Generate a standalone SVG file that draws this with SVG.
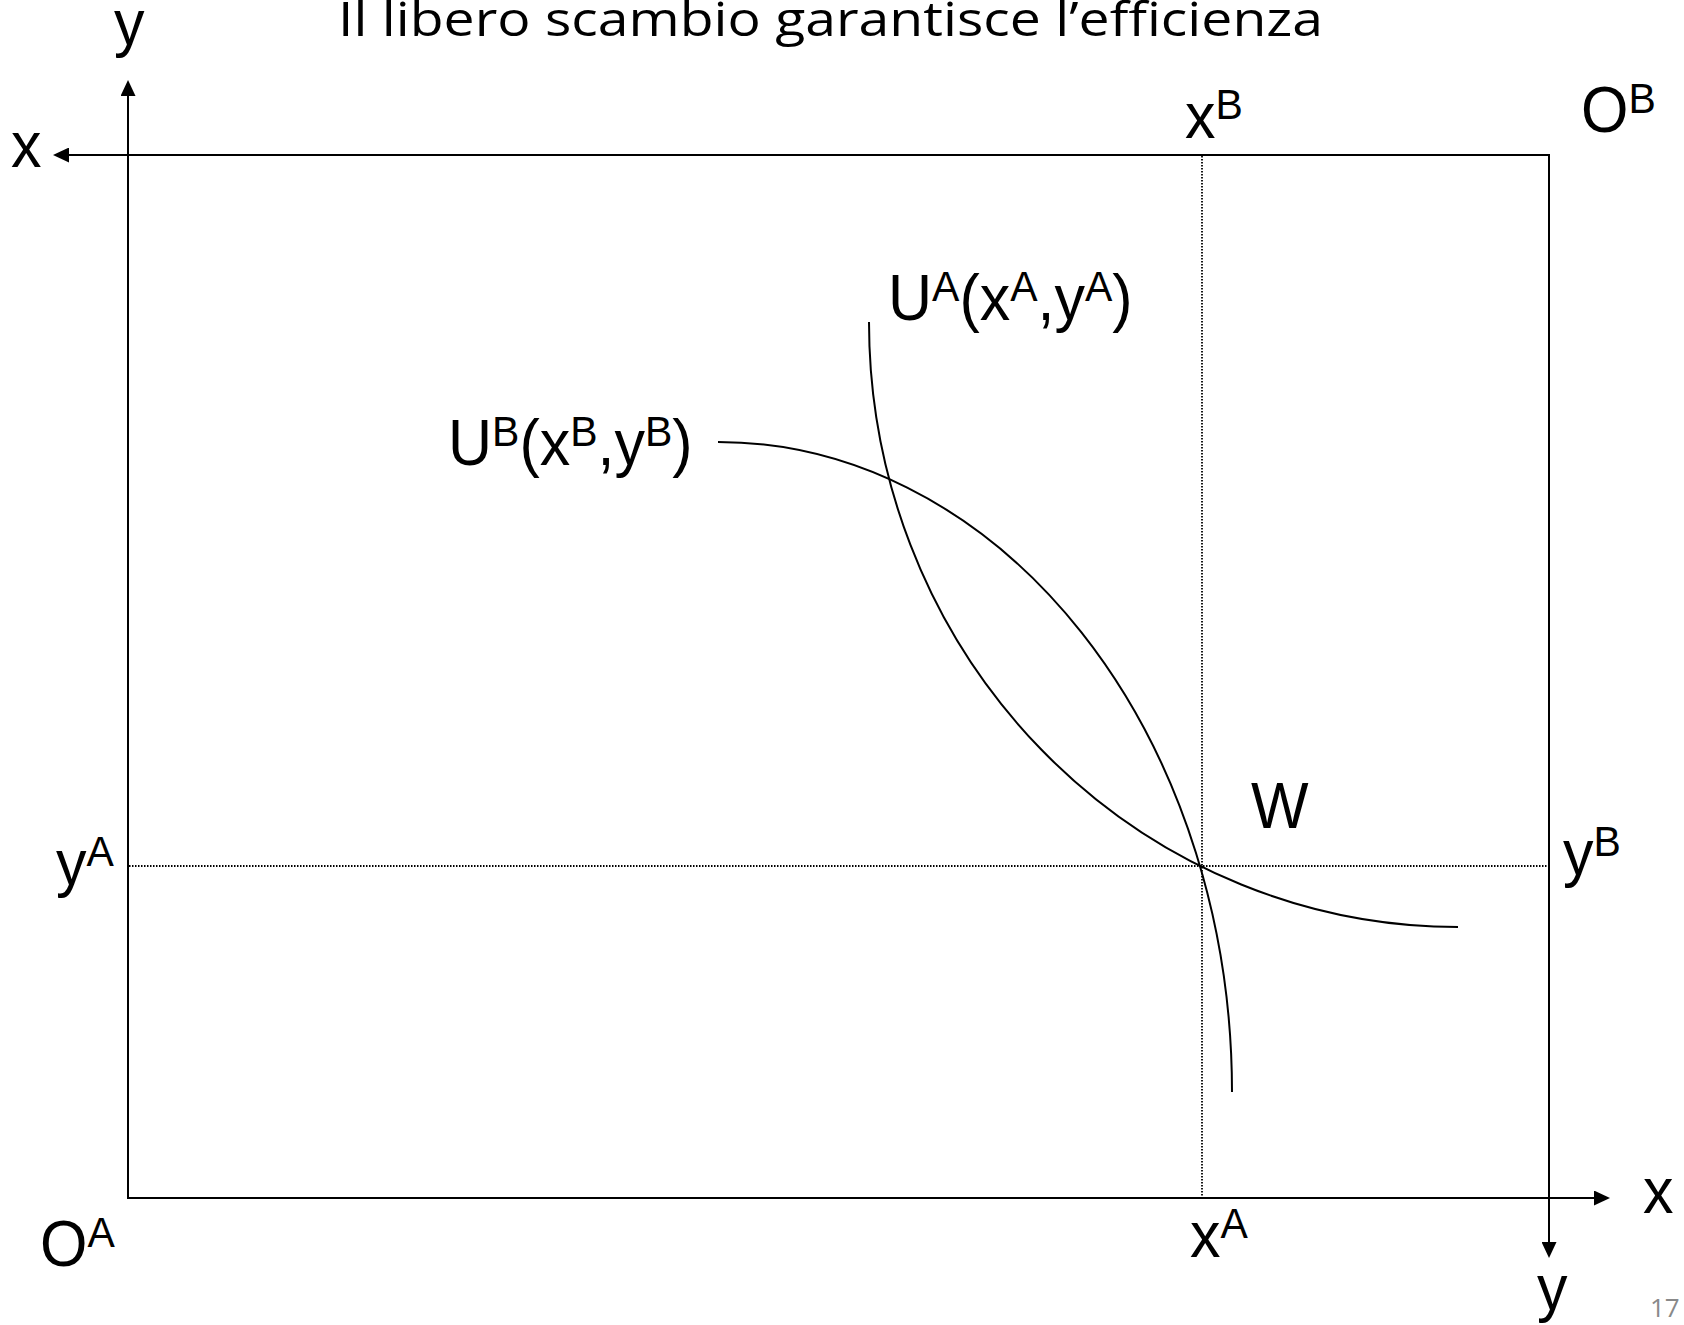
<svg xmlns="http://www.w3.org/2000/svg" width="1684" height="1325" viewBox="0 0 1684 1325">
<style>
.t{font-family:"Liberation Sans",Arial,sans-serif;font-size:64px;fill:#000}
.s{font-size:43px}
.title{font-family:"Open Sans","Noto Sans",sans-serif;font-size:47px;fill:#000}
.pg{font-family:"Open Sans","Noto Sans",sans-serif;font-size:26px;fill:#898989}
.ax{stroke:#000;stroke-width:2;fill:none}
.dot{stroke:#000;stroke-width:1.8;stroke-dasharray:1.5 1.5;fill:none}
.cv{stroke:#000;stroke-width:2;fill:none}
</style>
<defs>
<marker id="ah" viewBox="0 0 16 15" refX="6" refY="7.5" markerWidth="16" markerHeight="15" markerUnits="userSpaceOnUse" orient="auto">
<path d="M0,0 L16,7.5 L0,15 z" fill="#000"/>
</marker>
</defs>
<rect width="1684" height="1325" fill="#fff"/>
<text class="title" x="338" y="36" textLength="985" lengthAdjust="spacingAndGlyphs">Il libero scambio garantisce l’efficienza</text>
<g id="connectors">
<line class="dot" x1="1202" y1="156" x2="1202" y2="1197"/>
<line class="dot" x1="129" y1="866" x2="1548" y2="866"/>
<line class="ax" x1="128" y1="1198" x2="128" y2="90" marker-end="url(#ah)"/>
<line class="ax" x1="127" y1="1198" x2="1600" y2="1198" marker-end="url(#ah)"/>
<line class="ax" x1="1550" y1="155" x2="63" y2="155" marker-end="url(#ah)"/>
<line class="ax" x1="1549" y1="154" x2="1549" y2="1248" marker-end="url(#ah)"/>
<path id="curveUA" class="cv" d="M869,322 A589,605 0 0 0 1458,927"/>
<path id="curveUB" class="cv" d="M718,442 A514,650 0 0 1 1232,1092"/>
</g>
<g id="label-y-top"><text class="t" transform="translate(114,45) scale(0.953,1)">y</text></g>
<g id="label-x-left"><text class="t" transform="translate(11,167) scale(0.953,1)">x</text></g>
<g id="label-xB"><text class="t" transform="translate(1185,138) scale(0.953,1)">x<tspan class="s" dy="-19">B</tspan></text></g>
<g id="label-OB"><text class="t" transform="translate(1581,132) scale(0.953,1)">O<tspan class="s" dy="-19">B</tspan></text></g>
<g id="label-UA"><text class="t" transform="translate(888,320) scale(0.953,1)">U<tspan class="s" dy="-19">A</tspan><tspan dy="19">(x</tspan><tspan class="s" dy="-19">A</tspan><tspan dy="19">,y</tspan><tspan class="s" dy="-19">A</tspan><tspan dy="19">)</tspan></text></g>
<g id="label-UB"><text class="t" transform="translate(448,465) scale(0.953,1)">U<tspan class="s" dy="-19">B</tspan><tspan dy="19">(x</tspan><tspan class="s" dy="-19">B</tspan><tspan dy="19">,y</tspan><tspan class="s" dy="-19">B</tspan><tspan dy="19">)</tspan></text></g>
<g id="label-W"><text class="t" transform="translate(1251,828) scale(0.953,1)">W</text></g>
<g id="label-yA"><text class="t" transform="translate(56,885) scale(0.953,1)">y<tspan class="s" dy="-19">A</tspan></text></g>
<g id="label-yB"><text class="t" transform="translate(1563,875) scale(0.953,1)">y<tspan class="s" dy="-19">B</tspan></text></g>
<g id="label-OA"><text class="t" transform="translate(40,1266) scale(0.953,1)">O<tspan class="s" dy="-19">A</tspan></text></g>
<g id="label-xA"><text class="t" transform="translate(1190,1257) scale(0.953,1)">x<tspan class="s" dy="-19">A</tspan></text></g>
<g id="label-x-right"><text class="t" transform="translate(1643,1213) scale(0.953,1)">x</text></g>
<g id="label-y-bottom"><text class="t" transform="translate(1537,1310) scale(0.953,1)">y</text></g>
<g id="page-number"><text class="pg" x="1650" y="1317">17</text></g>
</svg>
